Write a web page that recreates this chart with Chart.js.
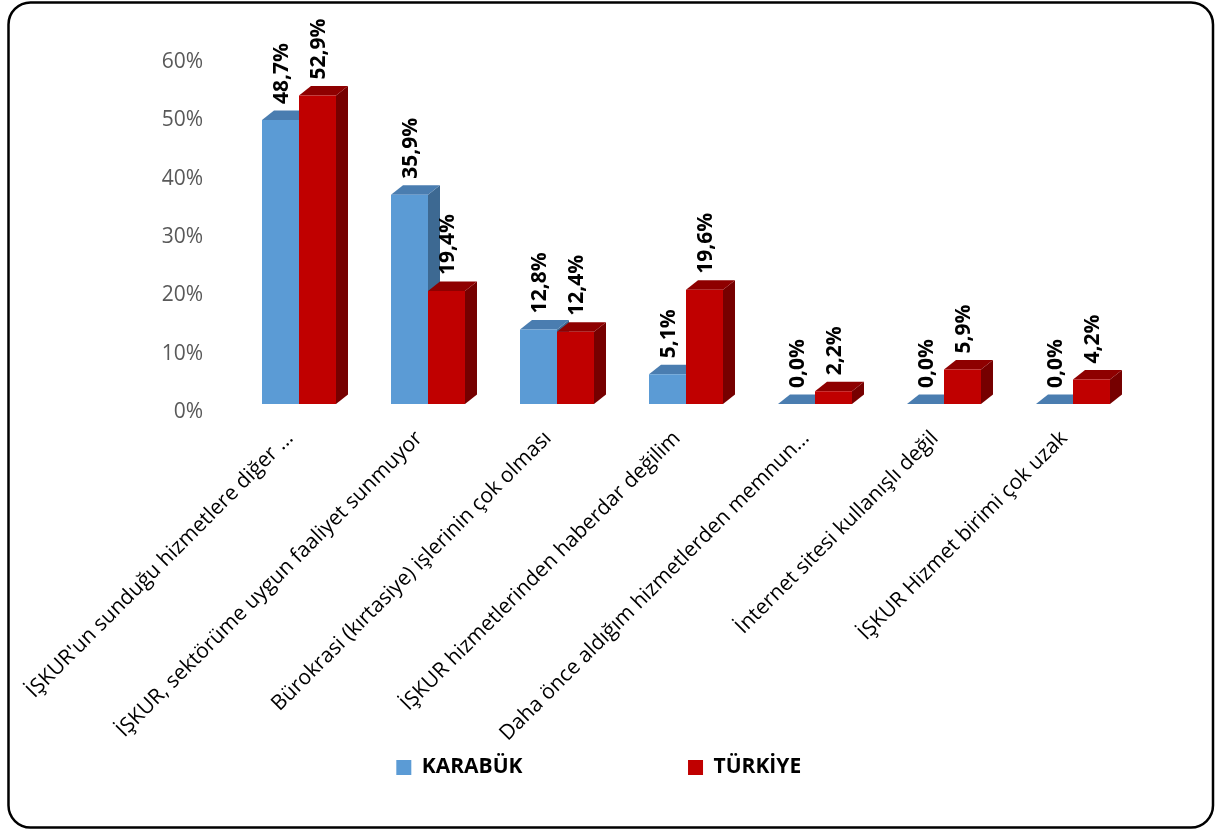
<!DOCTYPE html>
<html><head><meta charset="utf-8">
<script src="https://cdn.jsdelivr.net/npm/chart.js@4.4.1/dist/chart.umd.min.js"></script>
<style>html,body{margin:0;padding:0;background:#fff}canvas{display:block}</style>
</head><body>
<canvas id="c" width="1215" height="830" style="width:1215px;height:830px"></canvas>
<script>
const categories = [
  "İŞKUR'un sunduğu hizmetlere diğer ...",
  "İŞKUR, sektörüme uygun faaliyet sunmuyor",
  "Bürokrasi (kırtasiye) işlerinin çok olması",
  "İŞKUR hizmetlerinden haberdar değilim",
  "Daha önce aldığım hizmetlerden memnun...",
  "İnternet sitesi kullanışlı değil",
  "İŞKUR Hizmet birimi çok uzak"
];
const seriesNames = ["KARABÜK", "TÜRKİYE"];
const karabuk = [48.7, 35.9, 12.8, 5.1, 0.0, 0.0, 0.0];
const turkiye = [52.9, 19.4, 12.4, 19.6, 2.2, 5.9, 4.2];
const yTickMin = 0, yTickMax = 60, yTickStep = 10;

const FONT = "'Open Sans', sans-serif";
const palette = [
  {front: '#5B9BD5', top: '#4A7DB0', side: '#3D6992'},
  {front: '#C00000', top: '#8E0000', side: '#760000'}
];
const DX = 12, DY = -9.5;

const framePlugin = {
  id: 'frame',
  beforeDraw(chart) {
    const ctx = chart.ctx;
    ctx.save();
    ctx.fillStyle = '#fff';
    ctx.fillRect(0, 0, chart.width, chart.height);
    ctx.beginPath();
    ctx.roundRect(8.5, 2.5, 1204.5, 825, 22);
    ctx.lineWidth = 2.5;
    ctx.strokeStyle = '#000';
    ctx.stroke();
    ctx.restore();
  }
};

const bar3dPlugin = {
  id: 'bar3d',
  beforeDatasetsDraw(chart) {
    const ctx = chart.ctx;
    ctx.save();
    const metas = [chart.getDatasetMeta(0), chart.getDatasetMeta(1)];
    const n = chart.data.labels.length;
    for (let i = 0; i < n; i++) {
      metas.forEach((meta, di) => {
        const el = meta.data[i];
        if (!el) return;
        const p = el.getProps(['x', 'y', 'base', 'width'], true);
        const x0 = p.x - p.width / 2, x1 = p.x + p.width / 2;
        const top = Math.min(p.y, p.base), bot = Math.max(p.y, p.base);
        ctx.fillStyle = palette[di].side;
        ctx.beginPath();
        ctx.moveTo(x1, top); ctx.lineTo(x1 + DX, top + DY);
        ctx.lineTo(x1 + DX, bot + DY); ctx.lineTo(x1, bot);
        ctx.closePath(); ctx.fill();
        ctx.fillStyle = palette[di].top;
        ctx.beginPath();
        ctx.moveTo(x0, top); ctx.lineTo(x0 + DX, top + DY);
        ctx.lineTo(x1 + DX, top + DY); ctx.lineTo(x1, top);
        ctx.closePath(); ctx.fill();
      });
    }
    ctx.restore();
  }
};

const valueLabelPlugin = {
  id: 'valueLabels',
  afterDatasetsDraw(chart) {
    const ctx = chart.ctx;
    ctx.save();
    ctx.font = 'bold 21px ' + FONT;
    ctx.fillStyle = '#000';
    ctx.textAlign = 'left';
    ctx.textBaseline = 'middle';
    chart.data.datasets.forEach((ds, di) => {
      const meta = chart.getDatasetMeta(di);
      meta.data.forEach((el, i) => {
        const txt = ds.data[i].toFixed(1).replace('.', ',') + '%';
        ctx.save();
        ctx.translate(el.x + 1.5, el.y - 16);
        ctx.rotate(-Math.PI / 2);
        ctx.fillText(txt, 0, 0);
        ctx.restore();
      });
    });
    ctx.restore();
  }
};

Chart.defaults.font.family = FONT;

new Chart(document.getElementById('c'), {
  type: 'bar',
  data: {
    labels: categories,
    datasets: [
      {label: seriesNames[0], data: karabuk, backgroundColor: palette[0].front, borderWidth: 0},
      {label: seriesNames[1], data: turkiye, backgroundColor: palette[1].front, borderWidth: 0}
    ]
  },
  options: {
    responsive: false,
    animation: false,
    devicePixelRatio: 1,
    categoryPercentage: 0.5736,
    barPercentage: 1.0,
    layout: {padding: {left: 60, right: 77.5, top: 54.2, bottom: 42}},
    plugins: {
      tooltip: {enabled: false},
      legend: {
        position: 'bottom',
        labels: {
          boxWidth: 15, boxHeight: 15, padding: 165.5,
          color: '#000',
          font: {size: 21, weight: 'bold', family: FONT}
        }
      }
    },
    scales: {
      x: {
        grid: {display: false, drawTicks: false},
        border: {display: false},
        ticks: {
          autoSkip: false, minRotation: 45, maxRotation: 45,
          padding: 22, labelOffset: -9,
          color: '#000',
          font: {size: 21, family: FONT}
        },
        afterFit(scale) {
          scale.height = 187.5;
          scale._computeLabelArea = () => undefined;
        }
      },
      y: {
        min: yTickMin, max: yTickMax,
        grid: {display: false, drawTicks: false},
        border: {display: false},
        ticks: {
          stepSize: yTickStep, padding: 31.5, labelOffset: 8,
          color: '#595959',
          font: {size: 21, family: FONT},
          callback: v => v + '%'
        },
        afterFit(scale) { scale.width = 174.5; }
      }
    }
  },
  plugins: [framePlugin, bar3dPlugin, valueLabelPlugin]
});
</script>
</body></html>
